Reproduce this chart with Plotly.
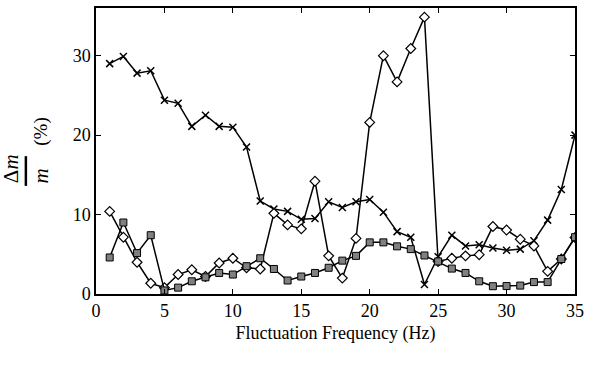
import plotly.graph_objects as go

freq = list(range(1, 36))

cross_vals = [29.0, 29.9, 27.8, 28.1, 24.4, 24.0, 21.1, 22.5, 21.1, 21.0,
              18.5, 11.7, 10.7, 10.4, 9.4, 9.5, 11.6, 10.9, 11.6, 11.9,
              10.3, 7.85, 7.15, 1.2, 4.7, 7.4, 6.05, 6.2, 5.8, 5.5,
              5.65, 6.7, 9.3, 13.15, 20.0]

diamond_vals = [10.4, 7.15, 4.0, 1.35, 0.8, 2.45, 3.05, 2.2, 3.9, 4.5,
                3.3, 3.15, 10.15, 8.7, 8.2, 14.2, 4.8, 2.0, 7.0, 21.6,
                30.0, 26.7, 30.9, 34.85, 4.1, 4.5, 4.8, 4.95, 8.5, 8.05,
                6.9, 6.05, 2.85, 4.4, 7.1]

square_vals = [4.6, 9.0, 5.15, 7.4, 0.45, 0.8, 1.6, 2.1, 2.65, 2.45,
               3.5, 4.5, 3.15, 1.7, 2.2, 2.65, 3.3, 4.2, 4.8, 6.5,
               6.5, 6.0, 5.65, 4.85, 4.1, 3.2, 2.65, 1.6, 0.98, 1.0,
               1.06, 1.5, 1.5, 4.4, 7.15]

x_ticks = [0, 5, 10, 15, 20, 25, 30, 35]
y_ticks = [0, 10, 20, 30]

FONT = "Liberation Serif, Times New Roman, Times, serif"

fig = go.Figure()
fig.add_trace(go.Scatter(
    x=freq, y=cross_vals, mode="lines+markers",
    line=dict(color="black", width=1.5),
    marker=dict(symbol="x-thin", size=7, line=dict(color="black", width=1.5)),
    showlegend=False))
fig.add_trace(go.Scatter(
    x=freq, y=diamond_vals, mode="lines+markers",
    line=dict(color="black", width=1.5),
    marker=dict(symbol="diamond", size=7.5, color="white",
                line=dict(color="black", width=1.2)),
    showlegend=False))
fig.add_trace(go.Scatter(
    x=freq, y=square_vals, mode="lines+markers",
    line=dict(color="black", width=1.5),
    marker=dict(symbol="square", size=7, color="#808080",
                line=dict(color="black", width=1)),
    showlegend=False))

axis_common = dict(showline=True, linecolor="black", linewidth=1.5,
                   mirror="ticks", ticks="inside", ticklen=5, tickwidth=1,
                   tickcolor="black", showgrid=False, zeroline=False,
                   tickfont=dict(family=FONT, size=18, color="black"))

fig.update_xaxes(range=[0, 35], tickvals=x_ticks, ticktext=[str(v) for v in x_ticks],
                 title=dict(text="Fluctuation Frequency (Hz)",
                            font=dict(family=FONT, size=18, color="black"),
                            standoff=6),
                 **axis_common)
fig.update_yaxes(range=[0, 36], tickvals=y_ticks, ticktext=[str(v) for v in y_ticks],
                 **axis_common)

# y-axis label as a rotated fraction
ann = dict(xref="paper", yref="paper", showarrow=False, textangle=-90,
           xanchor="center", yanchor="middle")
fig.add_annotation(text="Δ<i>m</i>", x=-0.1775, y=0.44,
                   font=dict(family=FONT, size=21, color="black"), **ann)
fig.add_annotation(text="<i>m</i>", x=-0.115, y=0.414,
                   font=dict(family=FONT, size=21, color="black"), **ann)
fig.add_annotation(text="(%)", x=-0.115, y=0.567,
                   font=dict(family=FONT, size=19, color="black"), **ann)
fig.add_shape(type="line", xref="paper", yref="paper",
              x0=-0.1464, x1=-0.1464, y0=0.378, y1=0.482,
              line=dict(color="black", width=2.5))

fig.update_layout(width=590, height=367,
                  margin=dict(l=96, r=12, t=6, b=73),
                  paper_bgcolor="white", plot_bgcolor="white",
                  font=dict(family=FONT, color="black"))

fig.write_html("out.html")
